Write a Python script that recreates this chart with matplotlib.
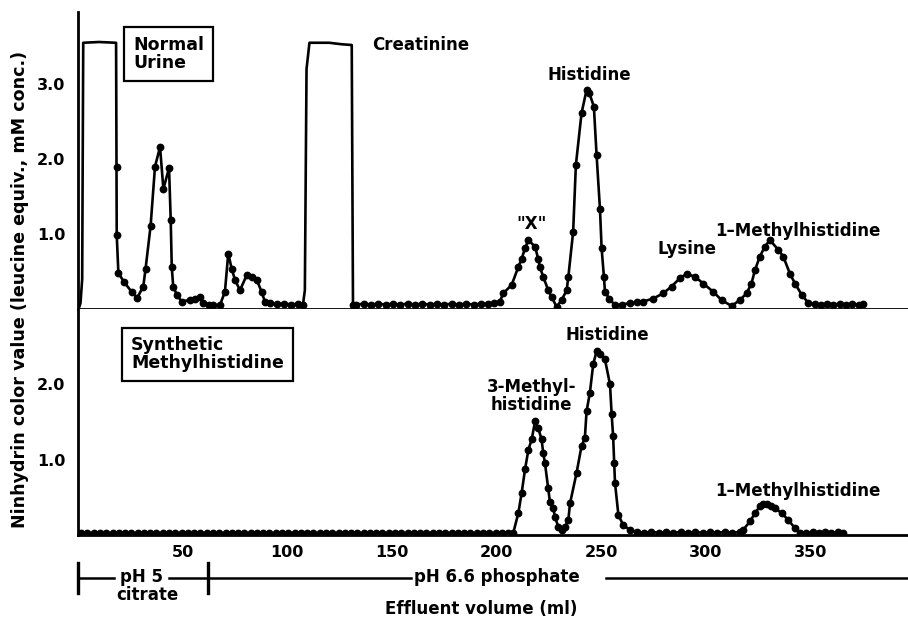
import matplotlib
matplotlib.use('Agg')
import matplotlib.pyplot as plt
from matplotlib.ticker import FormatStrFormatter

plt.rcParams['font.family'] = 'DejaVu Sans'
plt.rcParams['font.weight'] = 'bold'

# ---- Normal urine (top panel) ----
# off-scale plateaus (no points plotted on them)
front_vol = [0.3, 1.2, 2.0, 2.5, 10.0, 18.2, 18.4]
front_val = [0.0, 0.08, 0.4, 3.55, 3.56, 3.55, 1.89]
creat_vol = [107.5, 108.4, 109.2, 110.6, 120.0, 126.0, 130.8, 131.4]
creat_val = [0.06, 0.25, 3.2, 3.55, 3.55, 3.53, 3.52, 0.05]

urine_vol = [18.4, 18.5, 19.3, 22.0, 25.6, 28.3, 31.2, 32.3, 34.7, 36.8, 39.2, 40.8,
             43.5, 44.3, 44.8, 45.5, 47.2, 49.5, 53.5, 56.0, 58.3, 59.9, 62.5, 64.6,
             67.8, 70.2, 71.8, 73.4, 75.0, 77.4, 80.6, 83.0, 85.4, 87.7, 89.3, 91.7,
             95.0, 98.5, 102.0, 105.0, 107.5]
urine_val = [1.89, 0.99, 0.48, 0.36, 0.23, 0.15, 0.30, 0.54, 1.11, 1.90, 2.16, 1.60,
             1.88, 1.19, 0.56, 0.30, 0.19, 0.10, 0.12, 0.13, 0.16, 0.08, 0.06, 0.05,
             0.05, 0.23, 0.74, 0.54, 0.39, 0.25, 0.45, 0.43, 0.39, 0.23, 0.10, 0.08,
             0.07, 0.07, 0.06, 0.07, 0.06]
urine2_vol = [131.4, 133.0, 136.5, 140.0, 143.5, 147.0, 150.5, 154.0, 157.5, 161.0,
              164.5, 168.0, 171.5, 175.0, 178.5, 182.0, 185.5, 189.0, 192.5, 196.0,
              199.0, 201.6, 203.2, 207.2, 210.4, 212.0, 213.6, 215.2, 218.4, 219.9,
              220.7, 222.3, 224.7, 226.3, 228.7, 231.1, 233.5, 234.3, 236.6, 237.9,
              240.6, 243.0, 244.3, 246.5, 247.8, 249.4, 250.2, 251.3, 251.8, 253.8,
              256.6, 260.0, 263.7, 267.0, 270.1, 274.9, 279.7, 283.6, 287.6, 290.8,
              294.8, 298.8, 303.5, 307.5, 312.3, 316.3, 319.5, 321.8, 323.5, 325.8,
              328.2, 330.6, 334.6, 337.0, 340.2, 342.6, 345.8, 349.0, 352.0, 355.0,
              358.0, 361.0, 364.0, 367.0, 370.0, 373.0, 375.2]
urine2_val = [0.05, 0.06, 0.07, 0.06, 0.07, 0.06, 0.07, 0.06, 0.07, 0.06,
              0.07, 0.06, 0.07, 0.06, 0.07, 0.06, 0.07, 0.06, 0.07, 0.07,
              0.08, 0.10, 0.21, 0.32, 0.56, 0.67, 0.81, 0.92, 0.83, 0.67,
              0.56, 0.43, 0.25, 0.16, 0.03, 0.12, 0.25, 0.43, 1.03, 1.92,
              2.61, 2.92, 2.88, 2.70, 2.05, 1.34, 0.81, 0.43, 0.23, 0.14,
              0.05, 0.06, 0.08, 0.09, 0.10, 0.14, 0.21, 0.30, 0.41, 0.47,
              0.43, 0.34, 0.23, 0.12, 0.04, 0.12, 0.21, 0.34, 0.52, 0.70,
              0.83, 0.92, 0.79, 0.70, 0.47, 0.34, 0.19, 0.08, 0.07, 0.06,
              0.07, 0.06, 0.07, 0.06, 0.07, 0.06, 0.07]

# ---- Synthetic methylhistidine (bottom panel) ----
synth_vol = [1.5, 4.5, 7.5, 10.5, 13.5, 16.5, 19.5, 22.5, 25.5, 28.5, 31.5, 34.5,
             37.5, 40.5, 43.5, 46.5, 49.5, 52.5, 55.5, 58.5, 61.5, 64.5, 67.5, 70.5,
             73.5, 76.5, 79.5, 82.5, 85.5, 88.5, 91.5, 94.5, 97.5, 100.5, 103.5, 106.5,
             109.5, 112.5, 115.5, 118.5, 121.5, 124.5, 127.5, 130.5, 133.5, 136.5, 139.5,
             142.5, 145.5, 148.5, 151.5, 154.5, 157.5, 160.5, 163.5, 166.5, 169.5, 172.5,
             175.5, 178.5, 181.5, 184.5, 187.5, 190.5, 193.5, 196.5, 199.5, 202.5, 205.5,
             208.0, 210.4, 212.0, 213.6, 215.2, 216.8, 218.4, 219.9, 221.5, 222.3, 223.1,
             224.7, 225.5, 227.1, 227.9, 229.5, 231.1, 232.7, 234.3, 235.1, 238.2, 240.6,
             242.2, 243.0, 244.6, 246.2, 247.8, 249.4, 251.8, 254.2, 255.0, 255.7, 256.2,
             256.6, 258.2, 260.5, 263.7, 267.0, 270.5, 274.0, 277.5, 281.0, 284.5, 288.0,
             291.5, 295.0, 298.5, 302.0, 305.5, 309.0, 312.5, 316.3, 317.9, 321.1, 323.5,
             325.8, 327.5, 329.0, 331.0, 333.0, 336.2, 339.4, 342.6, 345.0, 348.0, 351.0,
             354.0, 357.0, 360.0, 363.0, 365.5]
synth_val = [0.03, 0.02, 0.03, 0.02, 0.03, 0.02, 0.03, 0.02, 0.03, 0.02, 0.03, 0.02,
             0.03, 0.02, 0.03, 0.02, 0.03, 0.02, 0.03, 0.02, 0.03, 0.02, 0.03, 0.02,
             0.03, 0.02, 0.03, 0.02, 0.03, 0.02, 0.03, 0.02, 0.03, 0.02, 0.03, 0.02,
             0.03, 0.02, 0.03, 0.02, 0.03, 0.02, 0.03, 0.02, 0.03, 0.02, 0.03,
             0.02, 0.03, 0.02, 0.03, 0.02, 0.03, 0.02, 0.03, 0.02, 0.03, 0.02,
             0.03, 0.02, 0.03, 0.02, 0.03, 0.02, 0.03, 0.02, 0.03, 0.02, 0.03,
             0.03, 0.29, 0.56, 0.87, 1.13, 1.27, 1.51, 1.42, 1.27, 1.09, 0.96,
             0.62, 0.44, 0.36, 0.24, 0.11, 0.07, 0.11, 0.20, 0.42, 0.82, 1.18,
             1.29, 1.64, 1.89, 2.27, 2.44, 2.40, 2.33, 2.00, 1.60, 1.31, 0.96,
             0.69, 0.27, 0.13, 0.07, 0.04, 0.03, 0.04, 0.03, 0.04, 0.03, 0.04,
             0.03, 0.04, 0.03, 0.04, 0.03, 0.04, 0.03, 0.04, 0.07, 0.18, 0.29,
             0.38, 0.41, 0.41, 0.39, 0.36, 0.29, 0.20, 0.09, 0.03, 0.03, 0.04,
             0.03, 0.04, 0.03, 0.04, 0.03]

x_ticks = [50, 100, 150, 200, 250, 300, 350]
top_yticks = [1.0, 2.0, 3.0]
bottom_yticks = [1.0, 2.0]

fig = plt.figure(figsize=(9.08, 6.19), dpi=100)
ax1 = fig.add_axes([0.0859, 0.5008, 0.9141, 0.4798])
ax2 = fig.add_axes([0.0859, 0.1357, 0.9141, 0.3651])

line_kw = dict(color='black', lw=1.9)
mark_kw = dict(color='black', lw=1.9, marker='o', markersize=4.6)

ax1.plot(front_vol, front_val, **line_kw)
ax1.plot(creat_vol, creat_val, **line_kw)
ax1.plot(urine_vol, urine_val, **mark_kw)
ax1.plot(urine2_vol, urine2_val, **mark_kw)
ax2.plot(synth_vol, synth_val, **mark_kw)

for ax in (ax1, ax2):
    ax.set_xlim(0, 396.6)
    for s in ('top', 'right'):
        ax.spines[s].set_visible(False)
    for s in ('left', 'bottom'):
        ax.spines[s].set_linewidth(2.0)
    ax.tick_params(length=0, labelsize=11.5, pad=9)
    ax.set_xticks(x_ticks)
    ax.yaxis.set_major_formatter(FormatStrFormatter('%.1f'))

ax1.set_ylim(0, 3.96)
ax2.set_ylim(0, 3.0)
ax1.set_yticks(top_yticks)
ax2.set_yticks(bottom_yticks)
ax1.set_xticklabels([])
ax2.tick_params(axis='x', pad=7)
for ax in (ax1, ax2):
    for lab in ax.get_xticklabels() + ax.get_yticklabels():
        lab.set_fontweight('bold')

box = dict(boxstyle='square,pad=0.5', fc='white', ec='black', lw=1.6)
fs = 12
ax1.text(26.3, 3.40, 'Normal\nUrine', fontsize=12.5, fontweight='bold', va='center',
         ha='left', linespacing=1.0, bbox=box)
ax1.text(140.5, 3.52, 'Creatinine', fontsize=fs, fontweight='bold', va='center')
ax1.text(244.5, 3.12, 'Histidine', fontsize=fs, fontweight='bold', ha='center', va='center')
ax1.text(216.5, 1.14, '"X"', fontsize=fs, fontweight='bold', ha='center', va='center')
ax1.text(290.8, 0.80, 'Lysine', fontsize=fs, fontweight='bold', ha='center', va='center')
ax1.text(344, 1.04, '1\u2013Methylhistidine', fontsize=fs, fontweight='bold',
         ha='center', va='center')

ax2.text(25.3, 2.40, 'Synthetic\nMethylhistidine', fontsize=12.5, fontweight='bold',
         va='center', ha='left', linespacing=1.0, bbox=box)
ax2.text(252.9, 2.65, 'Histidine', fontsize=fs, fontweight='bold', ha='center', va='center')
ax2.text(216.8, 1.85, '3-Methyl-\nhistidine', fontsize=fs, fontweight='bold',
         ha='center', va='center', linespacing=1.0)
ax2.text(344, 0.58, '1\u2013Methylhistidine', fontsize=fs, fontweight='bold',
         ha='center', va='center')

# buffer bar below x axis
yb = -0.573
bar_kw = dict(color='black', lw=1.8, clip_on=False)
ax2.plot([0, 0], [-0.373, -0.773], color='black', lw=2.4, clip_on=False)
ax2.plot([62, 62], [-0.373, -0.773], color='black', lw=2.4, clip_on=False)
ax2.plot([0, 17], [yb, yb], **bar_kw)
ax2.plot([43.5, 62], [yb, yb], **bar_kw)
ax2.plot([62, 159], [yb, yb], **bar_kw)
ax2.plot([252.5, 396.6], [yb, yb], **bar_kw)
ax2.text(30.5, yb + 0.02, 'pH 5', fontsize=fs, fontweight='bold', ha='center', va='center')
ax2.text(33, -0.80, 'citrate', fontsize=fs, fontweight='bold', ha='center', va='center')
ax2.text(160.5, yb + 0.02, 'pH 6.6 phosphate', fontsize=fs, fontweight='bold',
         ha='left', va='center')
ax2.text(192.6, -0.98, 'Effluent volume (ml)', fontsize=fs, fontweight='bold',
         ha='center', va='center')

fig.text(0.022, 0.533, 'Ninhydrin color value (leucine equiv., mM conc.)',
         rotation=90, fontsize=12.6, fontweight='bold', ha='center', va='center')

fig.savefig('out.png', dpi=100)
